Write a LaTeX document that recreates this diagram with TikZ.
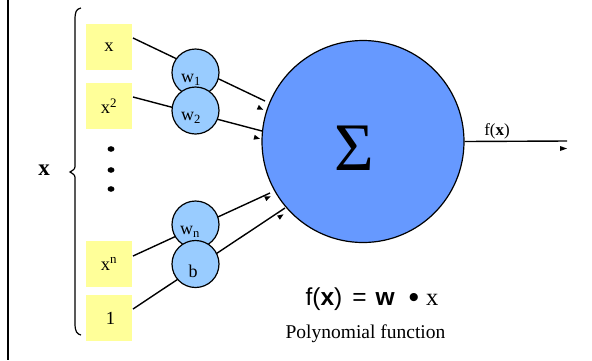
\documentclass[tikz,border=0pt]{standalone}
\usepackage{fontspec}
\setmainfont{Liberation Serif}
\newfontfamily\arialf{Liberation Sans}
\usetikzlibrary{calc}
\definecolor{boxyellow}{HTML}{FFFF99}
\definecolor{smallblue}{HTML}{99CCFF}
\definecolor{bigblue}{HTML}{6699FF}
\begin{document}
\begin{tikzpicture}[x=1pt,y=-1pt,
  inbox/.style={fill=boxyellow, draw=none, minimum width=46pt, minimum height=46pt, inner sep=0pt, font=\fontsize{18.5}{18.5}\selectfont},
  wcirc/.style={circle, fill=smallblue, draw=black, line width=1.2pt, minimum size=47pt, inner sep=0pt},
  wlab/.style={inner sep=0pt, font=\fontsize{18}{18}\selectfont},
  conn/.style={line width=1.4pt},
  tipmark/.style={fill=black}]
\useasboundingbox (0,0) rectangle (592,360);
% left border
\draw[line width=2pt] (8,0) -- (8,360);
% brace
\draw[line width=1.2pt] (81,8) .. controls (76,9) and (75,12) .. (75,20) -- (75,164)
  .. controls (75,169) .. (70,172) .. controls (75,175) .. (75,180) -- (75,323)
  .. controls (75,332) and (77,334) .. (81,335);
\node[inner sep=0pt, font=\fontsize{23}{23}\selectfont\bfseries] (X) at (44,170) {x};
% input boxes
\node[inbox] (bx1) at (109,47) {x};
\node[inbox] (bx2) at (109,106) {x\textsuperscript{2}};
\node[inbox] (bxn) at (109,264) {x\textsuperscript{n}};
\node[inbox] (bxb) at (109,318) {\,1};
% vertical dots
\fill (111,149) ellipse (3.5 and 2.8);
\fill (111,170) ellipse (3.5 and 2.8);
\fill (111,189) ellipse (3.5 and 2.8);
% connector end points
\coordinate (s1) at (133,38);  \coordinate (e1) at (265,101);
\coordinate (s2) at (133,97);  \coordinate (e2) at (262,131);
\coordinate (s3) at (133,256); \coordinate (e3) at (270,193);
\coordinate (s4) at (133,309); \coordinate (e4) at (285,208);
\draw[conn] (s1) -- (e1);
\draw[conn] (s2) -- (e2);
\draw[conn] (s3) -- (e3);
\draw[conn] (s4) -- (e4);
% weight circles
\node[wcirc] (w1) at (195.5,72.5) {};
\node[wlab] (lw1) at (191,80) {w\textsubscript{1}};
\node[wcirc] (w2) at (195.5,110.5) {};
\node[wlab] (lw2) at (191,118) {w\textsubscript{2}};
\node[wcirc] (wn) at (195.5,224.5) {};
\node[wlab] (lwn) at (190,232) {w\textsubscript{n}};
\node[wcirc] (wb) at (195.5,264) {};
\node[wlab] (lwb) at (193,271) {b};
% big circle
\node[circle, fill=bigblue, draw=black, line width=1.2pt, minimum size=202pt, inner sep=0pt] (big) at (363,141.5) {};
\node[inner sep=0pt, font=\fontsize{68}{68}\selectfont] (sig) at (354,148.5) {Σ};
% output
\coordinate (oe) at (567,141);
\draw[conn] (big.east) -- (oe);
\node[inner sep=0pt, font=\fontsize{17}{17}\selectfont] (fx) at (497,131) {f(\textbf{x})};
% arrow tips (offset, as in the reference)
\fill[tipmark, shift={(260.5,108.5)}, rotate=-25.5] (3,0) -- (-3,2.5) -- (-3,-2.5) -- cycle;
\fill[tipmark, shift={(257,138)}, rotate=-14.8] (3,0) -- (-3,2.5) -- (-3,-2.5) -- cycle;
\fill[tipmark, shift={(268,197.5)}, rotate=24.7] (3,0) -- (-3,2.5) -- (-3,-2.5) -- cycle;
\fill[tipmark, shift={(281,216)}, rotate=33.6] (3,0) -- (-3,2.5) -- (-3,-2.5) -- cycle;
\fill[tipmark, shift={(563.5,148.5)}] (3.5,0) -- (-3.5,2.5) -- (-3.5,-2.5) -- cycle;
% formula and caption
\node[inner sep=0pt, anchor=base] (form) at (372,305) {\fontsize{24.5}{24.5}\selectfont{\arialf f(\textbf{x})\hspace{10pt}=\hspace{9pt}\textbf{w}\hspace{14pt}\raisebox{-2.5pt}{\fontsize{30}{30}\selectfont •}\hspace{7pt}}x};
\node[inner sep=0pt, anchor=base] (cap) at (365.5,338) {\fontsize{19.5}{19.5}\selectfont Polynomial function};
\end{tikzpicture}
\end{document}
